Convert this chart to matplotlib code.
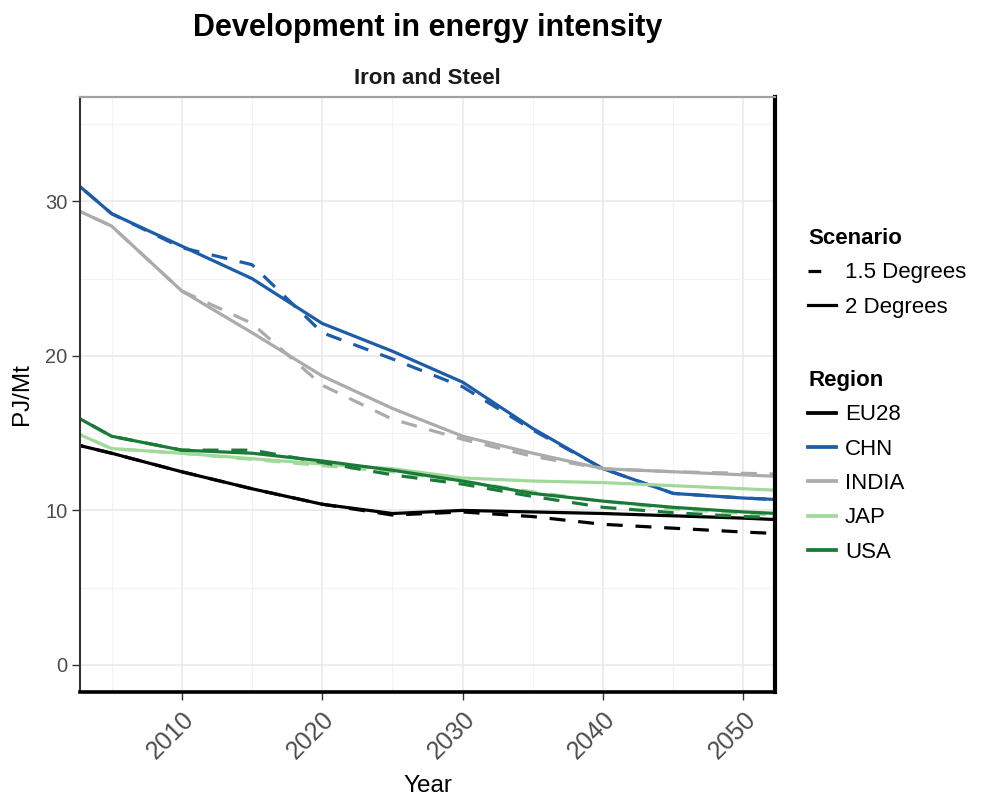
import numpy as np
import matplotlib.pyplot as plt
from matplotlib.lines import Line2D

plt.rcParams['font.family'] = ['Liberation Sans', 'DejaVu Sans']

# Datos (PJ/Mt), cada 5 años
years = [2000, 2005, 2010, 2015, 2020, 2025, 2030, 2035, 2040, 2045, 2050, 2055]
regions = ['EU28', 'CHN', 'INDIA', 'JAP', 'USA']
colors = ['#000000', '#1c5ca8', '#ababab', '#a1d99b', '#1b7a37']

eu28_2deg = [14.8, 13.7, 12.5, 11.4, 10.4, 9.8, 10.0, 9.9, 9.8, 9.65, 9.5, 9.3]
eu28_15deg = [14.8, 13.7, 12.5, 11.4, 10.4, 9.7, 9.9, 9.6, 9.1, 8.85, 8.6, 8.4]
chn_2deg = [33.1, 29.2, 27.1, 25.0, 22.1, 20.3, 18.3, 15.3, 12.7, 11.1, 10.8, 10.6]
chn_15deg = [33.1, 29.2, 27.0, 25.9, 21.5, 19.8, 18.0, 15.2, 12.7, 11.1, 10.8, 10.6]
india_2deg = [30.5, 28.4, 24.2, 21.5, 18.7, 16.6, 14.8, 13.7, 12.7, 12.5, 12.3, 12.1]
india_15deg = [30.5, 28.4, 24.2, 22.1, 18.1, 15.9, 14.6, 13.5, 12.7, 12.5, 12.4, 12.3]
jap_2deg = [16.0, 14.0, 13.7, 13.35, 13.0, 12.7, 12.1, 11.9, 11.8, 11.6, 11.4, 11.2]
jap_15deg = [16.0, 14.0, 13.7, 13.3, 12.9, 12.5, 11.9, 11.2, 10.6, 10.1, 9.8, 9.6]
usa_2deg = [17.3, 14.8, 13.9, 13.7, 13.2, 12.6, 11.9, 11.1, 10.6, 10.2, 9.9, 9.7]
usa_15deg = [17.3, 14.8, 13.9, 13.9, 13.1, 12.3, 11.7, 10.9, 10.2, 9.85, 9.6, 9.5]

series_2deg = [eu28_2deg, chn_2deg, india_2deg, jap_2deg, usa_2deg]
series_15deg = [eu28_15deg, chn_15deg, india_15deg, jap_15deg, usa_15deg]

fig = plt.figure(figsize=(9.83, 7.97), dpi=100)
ax = fig.add_axes([80 / 983, 105 / 797, 695 / 983, 595 / 797])

lw = 2.3
for c, s15, s2 in zip(colors, series_15deg, series_2deg):
    ax.plot(years, s15, color=c, lw=lw, dashes=(5, 4), solid_capstyle='butt')
    ax.plot(years, s2, color=c, lw=lw, solid_capstyle='butt')

ax.set_xlim(2002.75, 2052.25)
ax.set_ylim(-1.75, 36.75)
ax.set_xticks([2010, 2020, 2030, 2040, 2050])
ax.set_xticks([2005, 2015, 2025, 2035, 2045], minor=True)
ax.set_yticks([0, 10, 20, 30])
ax.set_yticks([5, 15, 25, 35], minor=True)
ax.grid(True, which='major', color='#e8e8e8', lw=1.1)
ax.grid(True, which='minor', color='#f3f3f3', lw=0.8)
ax.set_axisbelow(True)

ax.tick_params(axis='both', which='major', length=6, width=1, color='#333333')
ax.tick_params(axis='both', which='minor', length=0)
ax.tick_params(axis='y', labelsize=14.5, labelcolor='#4d4d4d', pad=3)
ax.tick_params(axis='x', labelsize=18, labelcolor='#4d4d4d', pad=5)
for lab in ax.get_xticklabels():
    lab.set_rotation(45)
    lab.set_ha('right')
    lab.set_va('top')
    lab.set_rotation_mode('anchor')

ax.spines['left'].set_color('#333333')
ax.spines['left'].set_linewidth(1.5)
ax.spines['bottom'].set_color('#000000')
ax.spines['bottom'].set_linewidth(2.6)
ax.spines['right'].set_color('#000000')
ax.spines['right'].set_linewidth(3)
ax.spines['top'].set_color('#a0a0a0')
ax.spines['top'].set_linewidth(1.6)

ax.set_xlabel('Year', fontsize=17.5)
ax.xaxis.label.set_verticalalignment('center')
ax.xaxis.set_label_coords(0.5, (692 - 786) / 595)
ax.set_ylabel('PJ/Mt', fontsize=17.5)
ax.yaxis.label.set_verticalalignment('center')
ax.yaxis.set_label_coords((22 - 80) / 695, 0.5)

cx = (80 + 775) / 2 / 983
fig.text(cx, 1 - 28 / 797, 'Development in energy intensity', ha='center', va='center',
         fontsize=22, fontweight='bold')
fig.text(cx, 1 - 78 / 797, 'Iron and Steel', ha='center', va='center',
         fontsize=16, fontweight='bold', color='#1a1a1a')

# Leyendas
leg_kw = dict(loc='upper left', frameon=False, fontsize=16,
              title_fontproperties={'weight': 'bold', 'size': 16},
              alignment='left', handlelength=1.26, handletextpad=0.4,
              labelspacing=0.6, borderpad=0, borderaxespad=0)
scen_handles = [Line2D([], [], color='black', lw=lw, dashes=(4, 7)),
                Line2D([], [], color='black', lw=lw)]
fig.legend(scen_handles, ['1.5 Degrees', '2 Degrees'], title='Scenario',
           bbox_to_anchor=(808 / 983, 1 - 228 / 797), **leg_kw)
reg_handles = [Line2D([], [], color=c, lw=lw + 0.4) for c in colors]
fig.legend(reg_handles, regions, title='Region',
           bbox_to_anchor=(808 / 983, 1 - 370 / 797), **leg_kw)

fig.savefig('out.png', dpi=100)
